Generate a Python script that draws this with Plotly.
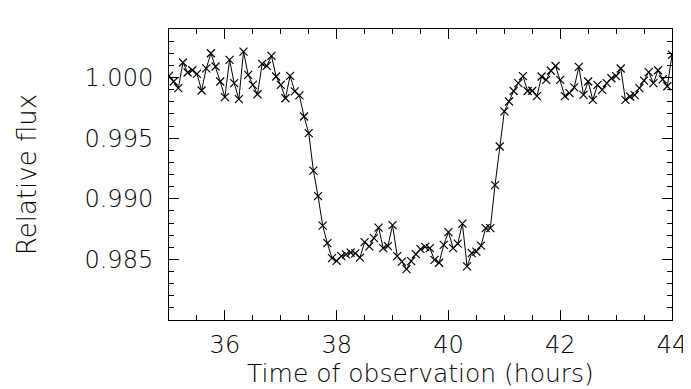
import plotly.graph_objects as go

# Observation times (hours), 5-minute cadence
time_hours = [35 + i / 12 for i in range(109)]

relative_flux = [
    1.00013, 0.99967, 0.99912, 1.00124, 1.00041, 1.00060, 1.00030, 0.99893, 1.00075, 1.00200,
    1.00091, 0.99967, 0.99838, 1.00145, 0.99953, 0.99821, 1.00214, 1.00021, 0.99939, 0.99862,
    1.00112, 1.00096, 1.00178, 1.00008, 0.99939, 0.99829, 1.00013, 0.99885, 0.99852, 0.99678,
    0.99541, 0.99232, 0.99021, 0.98778, 0.98634, 0.98510, 0.98488, 0.98527, 0.98541, 0.98556,
    0.98550, 0.98514, 0.98642, 0.98607, 0.98675, 0.98762, 0.98593, 0.98609, 0.98782, 0.98527,
    0.98481, 0.98420, 0.98486, 0.98543, 0.98584, 0.98603, 0.98593, 0.98496, 0.98472, 0.98620,
    0.98725, 0.98593, 0.98630, 0.98795, 0.98442, 0.98552, 0.98564, 0.98613, 0.98758, 0.98758,
    0.99112, 0.99431, 0.99720, 0.99802, 0.99889, 0.99953, 1.00011, 0.99889, 0.99891, 0.99846,
    1.00008, 0.99980, 1.00056, 1.00095, 0.99980, 0.99846, 0.99871, 0.99918, 1.00087, 0.99857,
    0.99967, 0.99815, 0.99939, 0.99898, 0.99953, 0.99994, 1.00011, 1.00074, 0.99815, 0.99843,
    0.99854, 0.99912, 0.99974, 1.00044, 0.99953, 1.00060, 0.99984, 0.99928, 1.00186,
]

x_tick_vals = [36, 38, 40, 42, 44]
x_tick_text = ["36", "38", "40", "42", "44"]
y_tick_vals = [0.985, 0.990, 0.995, 1.000]
y_tick_text = ["0.985", "0.990", "0.995", "1.000"]

FAM = "DejaVu Sans"
W = 200

fig = go.Figure()
fig.add_trace(go.Scatter(
    x=time_hours, y=relative_flux, mode="lines+markers",
    line=dict(color="black", width=1),
    marker=dict(symbol="x-thin", size=8, line=dict(color="black", width=1.2), color="black"),
    showlegend=False,
))

fig.update_layout(
    width=691, height=389,
    margin=dict(l=161, r=18, t=21, b=77),
    paper_bgcolor="white", plot_bgcolor="white",
    font=dict(family=FAM, weight=W, color="black", size=20),
)
fig.update_xaxes(
    range=[35, 44], showgrid=False, zeroline=False,
    showline=True, linecolor="black", linewidth=1, mirror="allticks",
    ticks="inside", ticklen=10, tickwidth=1, tickcolor="black",
    tickvals=x_tick_vals, ticktext=x_tick_text,
    tickfont=dict(family=FAM, weight=W, size=24),
    ticklabelstandoff=3,
    minor=dict(ticks="inside", ticklen=5, tick0=35, dtick=0.5, tickcolor="black", showgrid=False),
    title=dict(text="Time of observation (hours)", font=dict(family=FAM, weight=W, size=25), standoff=0),
)
fig.update_yaxes(
    range=[0.980, 1.004], showgrid=False, zeroline=False,
    showline=True, linecolor="black", linewidth=1, mirror="allticks",
    ticks="inside", ticklen=10, tickwidth=1, tickcolor="black",
    tickvals=y_tick_vals, ticktext=y_tick_text,
    tickfont=dict(family=FAM, weight=W, size=24),
    ticklabelstandoff=10,
    minor=dict(ticks="inside", ticklen=5, tick0=0.98, dtick=0.001, tickcolor="black", showgrid=False),
    title=dict(text="Relative flux", font=dict(family=FAM, weight=W, size=26), standoff=40),
)

fig.write_html("out.html")
